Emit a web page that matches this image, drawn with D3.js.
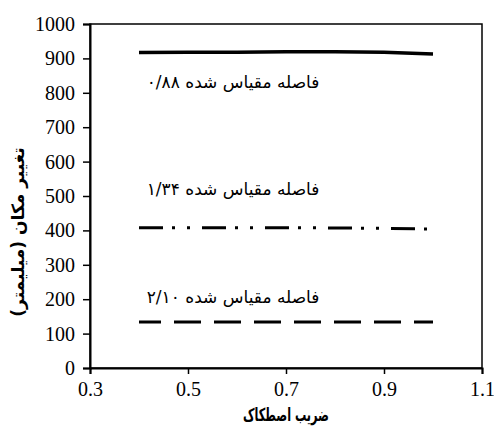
<!DOCTYPE html>
<html>
<head>
<meta charset="utf-8">
<script src="https://cdn.jsdelivr.net/npm/d3@7"></script>
<style>
  body { margin: 0; background: #fff; }
</style>
</head>
<body>
<div id="chart"></div>
<script>
'use strict';

// friction coefficient (x) and displacement in mm (y)
const frictionCoef = [0.4, 0.5, 0.6, 0.7, 0.8, 0.9, 1.0];
const dispScaled088 = [917, 918, 918, 919, 919, 918, 913];
const dispScaled134 = [408, 408, 408, 408, 407, 406, 404];
const dispScaled210 = [134, 134, 134, 134, 134, 134, 134];

const seriesNames = ['۰/۸۸', '۱/۳۴', '۲/۱۰'];
const labelX = [0.592, 0.592, 0.592];
const labelY = [814, 503, 189];

const xTicks = [0.3, 0.5, 0.7, 0.9, 1.1];
const yTicks = [0, 100, 200, 300, 400, 500, 600, 700, 800, 900, 1000];

const xTitle = 'ضریب اصطکاک';
const yTitle = 'تغییر مکان (میلیمتر)';

const serif = '"Liberation Serif", "Times New Roman", Times, serif';
const persian = '"DejaVu Sans", sans-serif';

const width = 494, height = 426;
const margin = { top: 24, right: 12, bottom: 58, left: 90 };
const panelWidth = width - margin.left - margin.right;
const panelHeight = height - margin.top - margin.bottom;

const svg = d3.select('#chart').append('svg')
  .attr('width', width)
  .attr('height', height);

const xScale = d3.scaleLinear().domain([0.3, 1.1]).range([0, panelWidth]);
const yScale = d3.scaleLinear().domain([0, 1000]).range([panelHeight, 0]);

const chart = svg.append('g')
  .attr('transform', `translate(${margin.left}, ${margin.top})`);

// frame
chart.append('rect')
  .attr('width', panelWidth)
  .attr('height', panelHeight)
  .attr('fill', 'none')
  .attr('stroke', '#000')
  .attr('stroke-width', 1.5);

const yAxis = d3.axisLeft(yScale)
  .tickValues(yTicks)
  .tickSize(7)
  .tickPadding(8)
  .tickFormat(d3.format('d'));

const xAxis = d3.axisBottom(xScale)
  .tickValues(xTicks)
  .tickSize(6)
  .tickPadding(8)
  .tickFormat(d3.format('.1f'));

function styleAxis(g) {
  g.attr('font-family', serif).attr('font-size', 20);
  g.select('.domain').attr('stroke-width', 2);
  g.selectAll('.tick line').attr('stroke-width', 1.5);
  g.selectAll('.tick text').attr('fill', '#000');
}

chart.append('g').call(yAxis).call(styleAxis);

chart.append('g')
  .attr('transform', `translate(0, ${panelHeight})`)
  .call(xAxis)
  .call(styleAxis);

const series = [
  { values: dispScaled088, dash: null, width: 3.5, offset: 0 },
  { values: dispScaled134, dash: '24,9,3,12,3,12', width: 3, offset: 0 },
  { values: dispScaled210, dash: '27,13', width: 3, offset: 5 }
];

const line = d3.line()
  .x((d, i) => xScale(frictionCoef[i]))
  .y(d => yScale(d));

series.forEach(function (s) {
  chart.append('path')
    .datum(s.values)
    .attr('d', line)
    .attr('fill', 'none')
    .attr('stroke', '#000')
    .attr('stroke-width', s.width)
    .attr('stroke-dasharray', s.dash)
    .attr('stroke-dashoffset', s.offset);
});

// scaled-distance labels
seriesNames.forEach(function (name, i) {
  chart.append('text')
    .attr('x', xScale(labelX[i]))
    .attr('y', yScale(labelY[i]))
    .attr('direction', 'rtl')
    .attr('text-anchor', 'middle')
    .attr('font-family', persian)
    .attr('font-size', 17)
    .text('فاصله مقیاس شده ' + name);
});

// axis titles
svg.append('text')
  .attr('x', margin.left + panelWidth / 2)
  .attr('y', 421)
  .attr('direction', 'rtl')
  .attr('text-anchor', 'middle')
  .attr('font-family', persian)
  .attr('font-size', 18)
  .attr('font-weight', 'bold')
  .attr('textLength', 86)
  .attr('lengthAdjust', 'spacingAndGlyphs')
  .text(xTitle);

svg.append('text')
  .attr('transform', `translate(24, ${margin.top + panelHeight / 2 + 36}) rotate(-90)`)
  .attr('direction', 'rtl')
  .attr('text-anchor', 'middle')
  .attr('font-family', persian)
  .attr('font-size', 17)
  .attr('font-weight', 'bold')
  .text(yTitle);
</script>
</body>
</html>
